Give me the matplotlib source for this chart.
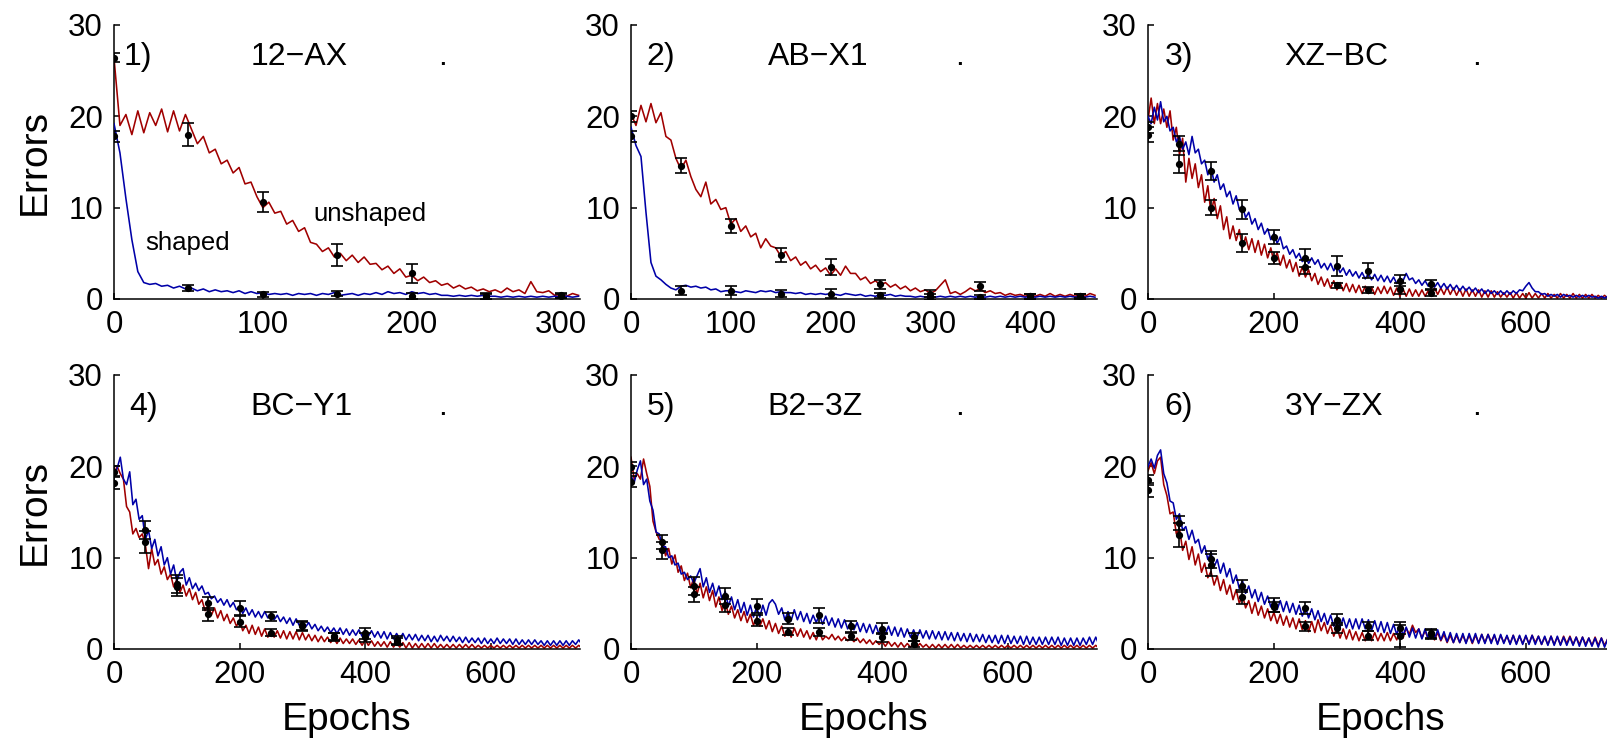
import numpy as np
import matplotlib
matplotlib.use('Agg')
import matplotlib.pyplot as plt

plt.rcParams['font.family'] = ['Liberation Sans', 'DejaVu Sans']

# ---------------- data ----------------
panel_numbers = ['1)', '2)', '3)', '4)', '5)', '6)']
panel_titles = ['12\u2212AX', 'AB\u2212X1', 'XZ\u2212BC', 'BC\u2212Y1', 'B2\u22123Z', '3Y\u2212ZX']
epoch_steps = [4, 5, 5, 5, 5, 5]
epoch_max = [313, 467, 740, 742, 742, 740]
x_ticks = [[0, 100, 200, 300], [0, 100, 200, 300, 400],
           [0, 200, 400, 600], [0, 200, 400, 600], [0, 200, 400, 600], [0, 200, 400, 600]]
y_ticks = [0, 10, 20, 30]

# panel 1 (every 4 epochs)
unshaped_1 = [26.4, 19.0, 20.2, 18.0, 20.6, 18.2, 20.4, 19.0, 20.8, 18.3,
              20.6, 18.4, 20.2, 18.6, 17.0, 17.8, 16.0, 16.4, 14.8, 15.2,
              13.8, 14.4, 12.6, 12.8, 11.2, 10.0, 10.6, 9.4, 9.6, 8.2,
              8.6, 7.4, 7.8, 6.2, 6.0, 5.2, 5.6, 4.6, 5.0, 4.2,
              4.8, 4.0, 4.6, 3.8, 3.9, 3.2, 3.6, 2.8, 3.3, 2.4,
              2.6, 2.0, 2.4, 1.8, 2.0, 1.5, 1.7, 1.2, 1.5, 1.1,
              1.3, 0.9, 1.1, 0.8, 1.0, 0.7, 1.2, 0.8, 1.0, 0.6,
              1.9, 0.8, 0.7, 0.9, 0.4, 0.5, 0.3, 0.6, 0.4]
shaped_1 = [19.2, 16.0, 11.0, 6.5, 3.0, 1.8, 1.6, 1.7, 1.4, 1.5,
            1.2, 1.4, 1.1, 1.2, 0.9, 1.1, 0.8, 1.0, 0.8, 0.9,
            0.7, 0.9, 0.6, 0.8, 0.6, 0.7, 0.5, 0.6, 0.5, 0.6,
            0.4, 0.6, 0.5, 0.6, 0.4, 0.6, 0.5, 0.7, 0.4, 0.5,
            0.6, 0.4, 0.6, 0.5, 0.7, 0.5, 0.8, 0.6, 0.7, 0.5,
            0.8, 0.6, 0.7, 0.5, 0.6, 0.4, 0.4, 0.3, 0.4, 0.3,
            0.4, 0.3, 0.4, 0.3, 0.3, 0.2, 0.3, 0.2, 0.3, 0.2,
            0.3, 0.2, 0.3, 0.2, 0.3, 0.2, 0.3, 0.2, 0.3]

# panel 2 (every 5 epochs)
unshaped_2 = [20.3, 19.0, 21.2, 19.4, 21.4, 19.3, 20.4, 17.8, 17.4, 15.4,
              14.2, 15.2, 13.4, 12.0, 11.2, 12.8, 10.4, 10.9, 9.8, 10.0,
              8.2, 8.8, 7.4, 8.0, 6.8, 7.2, 5.6, 6.6, 5.8, 5.6,
              4.7, 5.2, 4.2, 4.6, 3.7, 4.1, 3.3, 3.7, 3.0, 3.4,
              2.6, 3.3, 2.6, 3.6, 2.8, 2.8, 2.1, 2.4, 1.7, 2.0,
              1.5, 1.8, 1.3, 1.6, 1.1, 1.4, 0.9, 1.2, 0.8, 1.0,
              0.6, 0.9, 1.5, 2.1, 0.6, 0.8, 0.5, 0.8, 1.2, 0.9,
              1.1, 0.7, 0.9, 0.6, 0.7, 0.4, 0.6, 0.4, 0.5, 0.3,
              0.5, 0.3, 0.5, 0.3, 0.6, 0.3, 0.5, 0.3, 0.5, 0.3,
              0.5, 0.3, 0.6, 0.4]
shaped_2 = [18.8, 16.8, 15.6, 9.5, 4.0, 2.5, 2.1, 1.6, 1.2, 1.0,
            1.4, 1.5, 1.3, 1.4, 1.2, 1.3, 1.0, 1.1, 0.8, 0.9,
            0.9, 0.8, 0.7, 0.9, 0.8, 0.7, 0.9, 0.8, 0.9, 0.7,
            0.8, 0.7, 0.7, 0.6, 0.7, 0.5, 0.6, 0.5, 0.6, 0.5,
            0.6, 0.5, 0.4, 0.6, 0.5, 0.4, 0.5, 0.3, 0.4, 0.3,
            0.5, 0.4, 0.5, 0.3, 0.4, 0.3, 0.3, 0.2, 0.3, 0.2,
            0.3, 0.2, 0.3, 0.2, 0.3, 0.2, 0.3, 0.2, 0.3, 0.2,
            0.3, 0.2, 0.3, 0.2, 0.3, 0.2, 0.3, 0.2, 0.3, 0.2,
            0.3, 0.2, 0.3, 0.2, 0.3, 0.2, 0.3, 0.2, 0.3, 0.2,
            0.3, 0.2, 0.3, 0.2]

# panel 3 (every 5 epochs)
unshaped_3 = [19.6, 22.0, 19.2, 21.4, 19.2, 20.8, 18.8, 20.6, 17.4, 18.8,
              15.8, 17.6, 12.8, 15.4, 13.2, 14.8, 12.2, 13.6, 10.6, 12.4,
              9.4, 11.0, 8.8, 10.2, 7.6, 9.0, 6.6, 8.0, 6.4, 7.6,
              5.6, 6.8, 5.4, 6.6, 5.1, 6.4, 4.8, 6.0, 4.5, 5.6,
              4.0, 5.1, 3.7, 4.8, 3.4, 4.3, 3.0, 4.0, 2.5, 3.5,
              2.4, 3.2, 2.0, 2.8, 1.6, 2.4, 1.4, 2.2, 1.2, 2.0,
              1.0, 1.8, 0.9, 1.7, 0.8, 1.6, 0.7, 1.5, 0.6, 1.4,
              0.6, 1.3, 0.5, 1.3, 0.6, 1.4, 0.6, 1.3, 0.4, 1.2,
              0.3, 1.1, 0.3, 1.1, 0.3, 1.0, 0.3, 1.0, 0.3, 0.9,
              0.4, 1.2, 0.5, 1.2, 0.5, 1.3, 0.5, 1.2, 0.4, 1.1,
              0.3, 1.1, 0.3, 1.0, 0.3, 1.0, 0.2, 0.9, 0.2, 0.9,
              0.2, 0.8, 0.2, 0.7, 0.2, 0.7, 0.1, 0.7, 0.1, 0.6,
              0.1, 0.7, 0.1, 0.6, 0.1, 0.6, 0.1, 0.6, 0.1, 0.5,
              0.1, 0.6, 0.1, 0.5, 0.1, 0.6, 0.1, 0.5, 0.1, 0.5,
              0.1, 0.5, 0.1, 0.4, 0.1, 0.4, 0.1, 0.4, 0.1, 0.4]
shaped_3 = [20.0, 19.2, 21.0, 19.6, 21.6, 19.4, 20.0, 18.4, 18.8, 17.2,
            17.8, 16.4, 17.2, 15.8, 17.8, 16.0, 16.4, 14.8, 15.2, 13.6,
            14.4, 12.8, 13.6, 12.0, 12.6, 11.2, 11.8, 10.4, 11.3, 9.8,
            10.2, 8.9, 9.5, 8.2, 8.8, 7.6, 8.3, 7.1, 7.7, 6.5,
            7.2, 6.1, 6.8, 5.5, 5.8, 4.9, 5.4, 4.5, 5.0, 4.1,
            4.7, 3.9, 4.5, 3.8, 4.3, 3.4, 3.9, 3.2, 3.9, 3.1,
            3.7, 2.9, 3.4, 2.6, 3.2, 2.5, 3.0, 2.3, 2.9, 2.2,
            2.8, 2.1, 2.7, 2.0, 2.6, 1.9, 2.5, 1.8, 2.4, 1.7,
            2.3, 2.0, 2.8, 2.1, 2.3, 1.7, 2.1, 1.5, 2.0, 1.4,
            1.9, 1.3, 1.8, 1.2, 1.7, 1.1, 1.6, 1.0, 1.5, 0.9,
            1.4, 0.9, 1.3, 0.8, 1.2, 0.7, 1.1, 0.6, 1.0, 0.6,
            0.9, 0.5, 0.9, 0.5, 0.9, 0.5, 0.9, 0.6, 1.0, 0.9,
            1.4, 1.8, 1.2, 0.8, 0.8, 0.5, 0.6, 0.3, 0.5, 0.3,
            0.5, 0.2, 0.5, 0.3, 0.4, 0.2, 0.4, 0.2, 0.4, 0.2,
            0.4, 0.2, 0.3, 0.1, 0.3, 0.1, 0.3, 0.1, 0.3, 0.1]

# panel 4 (every 5 epochs)
unshaped_4 = [19.2, 20.0, 19.2, 18.6, 15.6, 15.0, 12.6, 13.2, 12.2, 12.6,
              11.4, 8.8, 11.0, 9.2, 9.8, 8.2, 9.0, 7.6, 8.2, 6.8,
              7.6, 6.2, 7.0, 5.8, 6.6, 5.4, 6.2, 4.9, 5.4, 4.2,
              4.8, 3.7, 4.5, 3.4, 4.2, 3.1, 3.8, 2.8, 3.4, 2.5,
              3.1, 2.0, 2.6, 1.7, 2.6, 1.6, 2.4, 1.4, 2.2, 1.3,
              2.1, 1.3, 2.0, 1.2, 2.0, 1.1, 1.9, 1.1, 1.9, 1.0,
              1.8, 1.0, 1.6, 0.9, 1.5, 0.8, 1.4, 0.8, 1.3, 0.7,
              1.2, 0.6, 1.2, 0.6, 1.1, 0.6, 1.1, 0.5, 1.0, 0.4,
              1.0, 0.4, 0.9, 0.3, 0.8, 0.3, 0.8, 0.2, 0.8, 0.2,
              0.7, 0.2, 0.7, 0.1, 0.7, 0.1, 0.6, 0.1, 0.6, 0.1,
              0.6, 0.1, 0.6, 0.1, 0.5, 0.1, 0.5, 0.1, 0.5, 0.1,
              0.5, 0.1, 0.5, 0.1, 0.5, 0.1, 0.4, 0.1, 0.4, 0.1,
              0.4, 0.1, 0.4, 0.1, 0.4, 0.1, 0.4, 0.1, 0.4, 0.1,
              0.4, 0.1, 0.4, 0.1, 0.4, 0.1, 0.4, 0.1, 0.4, 0.1,
              0.4, 0.1, 0.4, 0.1, 0.4, 0.1, 0.4, 0.1, 0.4, 0.1]
shaped_4 = [18.8, 19.8, 21.0, 18.6, 18.0, 19.4, 15.8, 16.4, 14.2, 14.6,
            12.0, 13.0, 11.0, 12.0, 10.2, 11.2, 9.2, 10.0, 8.2, 9.2,
            7.4, 8.4, 8.8, 7.0, 7.8, 6.6, 7.2, 6.4, 6.9, 6.0,
            6.2, 5.5, 5.8, 5.1, 5.5, 4.8, 5.4, 4.6, 5.1, 4.3,
            4.6, 3.9, 4.5, 3.7, 4.3, 3.5, 4.1, 3.4, 4.1, 3.4,
            3.8, 3.2, 3.7, 3.0, 3.5, 2.8, 3.4, 2.6, 3.3, 2.6,
            3.0, 2.4, 2.9, 2.2, 2.7, 2.0, 2.5, 1.9, 2.4, 1.8,
            2.3, 1.7, 2.3, 1.6, 2.2, 1.5, 2.1, 1.5, 2.1, 1.4,
            2.0, 1.4, 2.0, 1.3, 1.9, 1.2, 1.9, 1.1, 1.8, 1.1,
            1.7, 1.1, 1.7, 1.0, 1.6, 1.0, 1.6, 0.9, 1.5, 0.9,
            1.5, 0.8, 1.4, 0.8, 1.5, 0.9, 1.4, 0.8, 1.4, 0.8,
            1.3, 0.7, 1.3, 0.7, 1.2, 0.7, 1.2, 0.6, 1.2, 0.6,
            1.1, 0.6, 1.2, 0.6, 1.1, 0.6, 1.1, 0.5, 1.1, 0.5,
            1.0, 0.5, 1.0, 0.5, 1.0, 0.5, 0.9, 0.4, 0.9, 0.4,
            0.9, 0.4, 0.9, 0.4, 0.9, 0.4, 0.9, 0.5, 1.0, 0.5]

# panel 5 (every 5 epochs)
unshaped_5 = [21.0, 18.6, 19.2, 18.6, 20.8, 19.2, 17.8, 14.0, 12.8, 12.0,
              12.0, 10.2, 11.0, 9.3, 10.3, 8.4, 9.1, 7.5, 8.3, 6.7,
              7.8, 6.0, 7.2, 5.6, 6.8, 5.3, 6.4, 4.6, 5.7, 4.2,
              5.2, 3.8, 4.7, 3.4, 4.3, 3.1, 4.1, 2.9, 3.8, 2.6,
              3.4, 2.5, 3.3, 2.2, 3.1, 1.9, 2.8, 1.7, 2.5, 1.4,
              2.2, 1.3, 2.3, 1.4, 2.2, 1.3, 2.0, 1.1, 1.8, 1.0,
              1.9, 1.0, 1.4, 1.1, 1.6, 1.0, 1.4, 0.9, 1.3, 0.9,
              1.2, 0.8, 1.2, 0.7, 1.1, 0.6, 1.0, 0.5, 0.9, 0.5,
              0.8, 0.3, 0.8, 0.3, 0.7, 0.2, 0.7, 0.2, 0.6, 0.2,
              0.6, 0.2, 0.6, 0.2, 0.5, 0.1, 0.5, 0.1, 0.5, 0.1,
              0.5, 0.1, 0.5, 0.1, 0.5, 0.1, 0.4, 0.1, 0.4, 0.1,
              0.4, 0.1, 0.4, 0.1, 0.4, 0.1, 0.4, 0.1, 0.4, 0.1,
              0.4, 0.1, 0.4, 0.1, 0.4, 0.1, 0.4, 0.1, 0.4, 0.1,
              0.4, 0.1, 0.4, 0.1, 0.4, 0.1, 0.4, 0.1, 0.4, 0.1,
              0.4, 0.1, 0.4, 0.1, 0.4, 0.1, 0.4, 0.1, 0.4, 0.1]
shaped_5 = [19.0, 18.2, 19.6, 20.6, 18.0, 18.6, 16.2, 15.2, 12.8, 12.6,
            11.2, 11.2, 10.0, 10.2, 9.2, 9.4, 8.2, 8.4, 7.6, 8.0,
            7.2, 8.0, 8.8, 6.8, 7.8, 6.2, 7.2, 5.8, 6.9, 5.4,
            6.3, 4.7, 5.7, 4.3, 5.4, 4.0, 5.1, 3.7, 4.8, 3.5,
            4.6, 3.5, 4.8, 3.7, 5.0, 5.4, 4.9, 3.8, 4.5, 3.2,
            4.1, 3.1, 4.3, 3.2, 4.1, 3.0, 3.9, 2.8, 3.7, 2.9,
            3.8, 2.7, 3.6, 2.6, 3.4, 2.4, 3.3, 2.3, 3.2, 2.2,
            3.0, 2.1, 2.9, 1.9, 2.8, 1.8, 2.7, 1.7, 2.6, 1.6,
            2.5, 1.6, 2.5, 1.5, 2.4, 1.4, 2.3, 1.3, 2.2, 1.3,
            2.1, 1.2, 2.1, 1.2, 2.0, 1.1, 2.0, 1.1, 1.9, 1.0,
            1.9, 1.0, 1.8, 0.9, 1.8, 0.9, 1.7, 0.8, 1.7, 0.8,
            1.6, 0.8, 1.6, 0.7, 1.5, 0.7, 1.5, 0.6, 1.5, 0.6,
            1.5, 0.6, 1.4, 0.6, 1.4, 0.5, 1.4, 0.5, 1.3, 0.5,
            1.3, 0.5, 1.3, 0.5, 1.3, 0.5, 1.3, 0.4, 1.2, 0.4,
            1.2, 0.4, 1.2, 0.4, 1.2, 0.5, 1.3, 0.5, 1.3, 0.5]

# panel 6 (every 5 epochs)
unshaped_6 = [19.5, 20.4, 19.2, 20.6, 21.0, 18.0, 16.8, 14.8, 15.0, 12.6,
              13.2, 10.8, 11.8, 9.8, 11.2, 9.2, 10.4, 8.4, 9.4, 7.8,
              8.5, 7.0, 8.0, 6.4, 7.6, 6.0, 7.0, 5.4, 6.5, 5.0,
              5.9, 4.5, 5.3, 3.9, 5.1, 3.7, 4.7, 3.4, 4.4, 3.1,
              4.0, 2.8, 3.8, 2.6, 3.6, 2.4, 3.4, 2.2, 3.3, 2.1,
              3.1, 1.9, 3.0, 1.8, 3.2, 2.0, 2.9, 1.7, 2.6, 1.4,
              2.4, 1.2, 2.2, 1.1, 2.1, 1.0, 1.9, 0.9, 1.8, 0.9,
              1.8, 0.9, 1.8, 0.9, 1.7, 0.9, 1.8, 0.9, 1.7, 1.0,
              1.9, 1.2, 2.3, 1.6, 2.6, 1.8, 2.2, 1.2, 2.0, 1.1,
              1.9, 1.0, 1.8, 0.9, 1.6, 0.7, 1.5, 0.7, 1.5, 0.7,
              1.5, 0.7, 1.5, 0.6, 1.5, 0.7, 1.6, 0.7, 1.6, 0.8,
              1.5, 0.6, 1.5, 0.7, 1.4, 0.6, 1.5, 0.6, 1.4, 0.6,
              1.4, 0.6, 1.5, 0.7, 1.4, 0.5, 1.3, 0.5, 1.4, 0.5,
              1.3, 0.5, 1.4, 0.6, 1.4, 0.5, 1.3, 0.5, 1.3, 0.5,
              1.2, 0.4, 1.3, 0.4, 1.2, 0.4, 1.1, 0.3, 1.1, 0.3]
shaped_6 = [20.0, 20.8, 19.8, 21.2, 21.8, 19.2, 18.2, 16.2, 16.0, 14.2,
            14.8, 13.0, 13.4, 12.0, 13.0, 11.6, 12.0, 10.5, 11.3, 9.8,
            10.6, 9.0, 9.8, 8.3, 9.4, 7.9, 8.8, 7.2, 8.1, 6.6,
            7.5, 6.1, 6.9, 5.6, 6.5, 5.2, 6.2, 4.9, 5.8, 4.6,
            5.4, 4.3, 5.3, 4.1, 5.2, 4.0, 5.0, 3.8, 4.8, 3.6,
            4.6, 3.4, 4.4, 3.2, 4.2, 3.0, 3.9, 2.7, 3.7, 2.5,
            3.5, 2.4, 3.4, 2.3, 3.3, 2.2, 3.3, 2.2, 3.3, 2.2,
            3.2, 2.0, 3.1, 1.9, 3.0, 1.8, 2.9, 1.7, 2.7, 1.6,
            2.6, 1.5, 2.4, 1.3, 2.3, 1.2, 2.2, 1.1, 2.2, 1.1,
            2.2, 1.1, 2.1, 1.0, 1.9, 0.8, 1.8, 0.7, 1.7, 0.7,
            1.7, 0.6, 1.7, 0.7, 1.7, 0.6, 1.6, 0.6, 1.6, 0.6,
            1.6, 0.5, 1.6, 0.6, 1.5, 0.5, 1.5, 0.5, 1.5, 0.5,
            1.5, 0.5, 1.5, 0.5, 1.4, 0.5, 1.4, 0.4, 1.4, 0.4,
            1.4, 0.4, 1.3, 0.4, 1.3, 0.4, 1.3, 0.3, 1.3, 0.3,
            1.2, 0.3, 1.2, 0.2, 1.2, 0.2, 1.1, 0.1, 1.1, 0.1]

# error bars (mean +/- sem) every 50 epochs
eb_epochs_1 = [0, 50, 100, 150, 200, 250, 300]
eb_epochs = [0, 50, 100, 150, 200, 250, 300, 350, 400, 450]
eb_unshaped_mean = [
    [26.4, 18.0, 10.6, 4.8, 2.8, 0.3, 0.4],
    [20.0, 14.6, 8.0, 4.8, 3.5, 1.6, 0.6, 1.4, 0.3, 0.3],
    [18.0, 14.8, 10.0, 6.1, 4.5, 3.5, 1.5, 1.0, 1.1, 0.65],
    [18.2, 11.7, 6.8, 3.8, 3.0, 1.8, 2.5, 1.3, 1.3, 0.8],
    [18.3, 10.8, 6.0, 4.8, 3.1, 1.9, 1.85, 1.4, 1.3, 0.55],
    [17.4, 12.5, 9.2, 5.7, 4.6, 2.5, 2.3, 1.45, 1.45, 1.6]]
eb_unshaped_err = [
    [0.5, 1.3, 1.1, 1.2, 1.0, 0.4, 0.3],
    [0.6, 0.8, 0.8, 0.8, 0.9, 0.5, 0.4, 0.5, 0.3, 0.3],
    [0.8, 1.0, 0.8, 1.0, 0.7, 0.8, 0.3, 0.3, 0.6, 0.3],
    [0.7, 1.2, 1.0, 0.7, 0.6, 0.4, 0.5, 0.4, 0.5, 0.4],
    [0.6, 0.9, 0.8, 0.7, 0.6, 0.4, 0.4, 0.4, 0.5, 0.3],
    [0.8, 1.3, 1.2, 0.8, 0.6, 0.5, 0.6, 0.5, 1.2, 0.5]]
eb_shaped_mean = [
    [17.8, 1.2, 0.5, 0.6, 0.35, 0.3, 0.3],
    [17.8, 0.9, 0.9, 0.6, 0.6, 0.4, 0.2, 0.2, 0.3, 0.3],
    [18.8, 17.0, 14.0, 9.8, 6.8, 4.5, 3.6, 3.1, 2.0, 1.6],
    [19.4, 13.0, 7.1, 5.0, 4.5, 3.6, 2.6, 1.4, 1.7, 1.0],
    [19.9, 11.7, 6.9, 5.8, 4.7, 3.3, 3.7, 2.5, 2.2, 1.3],
    [18.5, 13.8, 9.8, 6.9, 4.8, 4.5, 3.2, 2.5, 2.3, 1.7]]
eb_shaped_err = [
    [0.6, 0.3, 0.3, 0.3, 0.3, 0.3, 0.2],
    [0.6, 0.5, 0.5, 0.4, 0.5, 0.3, 0.3, 0.2, 0.3, 0.2],
    [0.6, 0.8, 1.0, 1.0, 0.8, 1.0, 1.1, 0.8, 0.6, 0.5],
    [0.6, 1.0, 1.0, 0.7, 0.8, 0.5, 0.5, 0.4, 0.6, 0.4],
    [0.6, 0.8, 1.0, 0.9, 0.8, 0.6, 0.8, 0.6, 0.6, 0.4],
    [0.5, 0.8, 0.9, 0.7, 0.8, 0.7, 0.6, 0.5, 0.7, 0.5]]

unshaped = [unshaped_1, unshaped_2, unshaped_3, unshaped_4, unshaped_5, unshaped_6]
shaped = [shaped_1, shaped_2, shaped_3, shaped_4, shaped_5, shaped_6]

# ---------------- style ----------------
RED = '#A00000'
BLUE = '#0000A8'
W, H = 1608, 740
fig = plt.figure(figsize=(W / 100, H / 100), dpi=100)

col_left = [114, 631, 1148]
row_bottom = [299, 649]
ax_w, ax_h = 466, 274
num_x = [0.021, 0.033, 0.036, 0.033, 0.033, 0.036]

for i in range(6):
    r, c = divmod(i, 3)
    ax = fig.add_axes([col_left[c] / W, (H - row_bottom[r]) / H, ax_w / W, ax_h / H])
    x = np.arange(len(unshaped[i])) * epoch_steps[i]
    ax.plot(x, unshaped[i], color=RED, lw=1.15, zorder=2)
    ax.plot(x, shaped[i], color=BLUE, lw=1.15, zorder=3)
    ebx = eb_epochs_1 if i == 0 else eb_epochs
    for m, e in ((eb_unshaped_mean[i], eb_unshaped_err[i]), (eb_shaped_mean[i], eb_shaped_err[i])):
        ax.errorbar(ebx, m, yerr=e, fmt='o', color='black', ms=4.2, capsize=4.5,
                    elinewidth=1.2, capthick=1.2, zorder=5)
    ax.set_xlim(0, epoch_max[i])
    ax.set_ylim(0, 30)
    ax.set_xticks(x_ticks[i])
    ax.set_yticks(y_ticks)
    for s in ('top', 'right'):
        ax.spines[s].set_visible(False)
    for s in ('left', 'bottom'):
        ax.spines[s].set_linewidth(1.1)
    ax.tick_params(direction='in', length=4, width=1.1, labelsize=22.5)
    ax.tick_params(axis='x', pad=8)
    ax.tick_params(axis='y', pad=8)
    ax.text(num_x[i], 0.853, panel_numbers[i], transform=ax.transAxes,
            fontsize=23, va='baseline', ha='left')
    ax.text(0.293, 0.853, panel_titles[i], transform=ax.transAxes,
            fontsize=23, va='baseline', ha='left')
    ax.text(0.695, 0.853, '.', transform=ax.transAxes,
            fontsize=23, va='baseline', ha='left')
    if c == 0:
        ax.text(-0.148, 0.5, 'Errors', transform=ax.transAxes, fontsize=28,
                rotation=90, rotation_mode='anchor', ha='center', va='baseline')
    if r == 1:
        ax.text(0.5, -0.295, 'Epochs', transform=ax.transAxes, fontsize=28,
                ha='center', va='baseline')
    if i == 0:
        ax.text(21, 5.4, 'shaped', fontsize=18.5, va='baseline', ha='left')
        ax.text(134, 8.5, 'unshaped', fontsize=18.5, va='baseline', ha='left')

fig.savefig('out.png', dpi=100)
